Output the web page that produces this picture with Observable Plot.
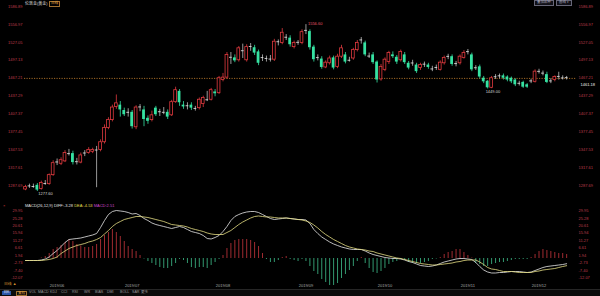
<!DOCTYPE html>
<html><head><meta charset="utf-8">
<script src="https://cdn.jsdelivr.net/npm/d3@7"></script>
<script src="https://cdn.jsdelivr.net/npm/@observablehq/plot@0.6"></script>
<style>
html,body{margin:0;padding:0;background:#000;}
#wrap{position:relative;width:600px;height:296px;overflow:hidden;background:#000;font-family:'Liberation Sans','Noto Sans CJK SC',sans-serif;}
#p1{position:absolute;left:0;top:0;}
#p2{position:absolute;left:0;top:200px;}
.ov{position:absolute;white-space:nowrap;line-height:1;}
</style></head><body>
<div id="wrap"><div id="p1"></div><div id="p2"></div><div id="ov"></div></div>
<script>
// ---------- data ----------
const openP = [1281,1286,1287,1288,1282,1292,1290,1305,1326,1324,
1328,1342,1341,1327,1326,1341,1342,1344,1346,1347,
1360,1384,1397,1419,1422,1413,1409,1410,1385,1418,
1414,1400,1397,1417,1410,1411,1410,1405,1427,1445,
1422,1420,1422,1416,1417,1424,1432,1431,1444,1442,
1464,1468,1501,1501,1497,1512,1497,1519,1518,1511,
1501,1499,1500,1498,1527,1526,1535,1534,1519,1526,
1526,1546,1545,1519,1501,1499,1485,1492,1501,1486,
1503,1506,1498,1500,1514,1530,1526,1505,1506,1494,
1465,1481,1494,1506,1502,1497,1506,1492,1492,1489,
1484,1490,1489,1482,1484,1481,1492,1503,1503,1491,
1492,1501,1511,1506,1484,1486,1467,1462,1451,1469,
1470,1471,1469,1467,1464,1458,1460,1456,1462,1461,
1478,1475,1473,1462,1464,1469,1467,1467];
const highP = [1288,1290,1290,1291,1295,1296,1307,1329,1332,1334,
1346,1348,1345,1333,1342,1346,1351,1350,1353,1364,
1389,1401,1422,1439,1428,1417,1416,1413,1421,1423,
1420,1404,1412,1420,1415,1418,1414,1430,1452,1448,
1428,1426,1426,1420,1434,1437,1445,1450,1448,1470,
1475,1510,1510,1506,1520,1524,1523,1525,1522,1514,
1506,1504,1505,1532,1531,1550,1540,1538,1529,1530,
1548,1556.6,1548,1522,1506,1503,1496,1504,1504,1507,
1522,1510,1502,1517,1530,1535,1529,1509,1510,1496,
1490,1501,1512,1511,1505,1514,1510,1495,1497,1492,
1492,1494,1492,1487,1489,1496,1504,1507,1506,1495,
1506,1513,1515,1509,1488,1489,1470,1463,1470,1473,
1474,1474,1471,1469,1466,1462,1462,1458,1465,1481,
1482,1479,1477,1466,1471,1477,1471,1470];
const lowP = [1279,1283,1283,1277.6,1280,1288,1288,1303,1321,1321,
1326,1337,1322,1322,1324,1336,1340,1341,1284,1344,
1357,1381,1394,1415,1402,1403,1402,1382,1381,1411,
1386,1390,1394,1403,1403,1406,1398,1403,1425,1420,
1415,1414,1413,1412,1414,1418,1428,1429,1436,1440,
1461,1465,1490,1493,1494,1500,1494,1512,1505,1488,
1495,1494,1494,1495,1521,1523,1530,1519,1516,1522,
1523,1540,1514,1494,1496,1482,1483,1489,1481,1483,
1500,1491,1494,1497,1511,1524,1503,1500,1490,1459,
1462,1478,1490,1500,1490,1494,1490,1481,1487,1475,
1480,1485,1482,1478,1480,1479,1489,1498,1487,1486,
1489,1499,1506,1478,1480,1466,1458,1449,1449.5,1465,
1466,1464,1461,1458,1453,1454,1450,1450,1458,1459,
1474,1471,1458,1458,1461,1464,1464,1464];
const closeP = [1285,1287,1286,1280,1292,1291,1305,1325,1327,1330,
1342,1341,1326,1327.5,1338,1342,1347,1347,1347,1360,
1384,1397,1418,1425,1414,1406,1410,1386,1418,1419,
1398,1395,1405,1406,1411,1410,1402,1427,1447,1426,
1419,1421,1417,1416.5,1431,1434,1431,1447,1441,1467,
1468,1506,1502,1496,1517,1513,1519,1520,1509,1492,
1501.5,1500,1499,1528,1528,1543,1535.5,1523,1526,1527,
1544,1547,1518,1498,1501.5,1485,1493,1500,1484,1503,
1517,1494,1497,1514,1526,1531,1506,1504,1493,1464,
1486,1498,1509,1503,1494,1511,1493,1484,1492.5,1478,
1489,1490.5,1485,1482.5,1485,1493,1501,1503.5,1490,1491.5,
1503,1509,1511.5,1481,1484.5,1469,1461,1451,1467,1469.5,
1471,1467,1464,1461,1456,1458.5,1452,1452,1462.5,1478,
1478.5,1475.5,1460,1462.5,1469,1470,1467.5,1468];

const diffV = [-1.26,-1.26,-1.26,-1.26,-0.95,-0.32,0.95,3.15,5.04,7.56,
10.08,11.97,12.29,12.60,12.92,13.55,14.18,14.81,15.75,19.53,
23.94,27.72,29.61,30.24,29.93,29.61,28.98,28.04,28.35,27.09,
25.20,23.94,22.37,21.42,20.79,20.16,19.53,18.90,19.53,20.16,
19.53,18.27,17.01,16.38,15.75,14.49,12.60,12.29,13.23,14.49,
17.01,20.16,23.94,26.46,27.72,28.67,29.30,29.61,29.61,28.98,
27.72,26.46,25.20,24.57,24.89,25.20,25.52,25.20,24.89,24.57,
24.57,24.26,22.05,18.27,15.75,13.55,11.97,10.40,9.14,8.19,
7.25,6.62,5.99,5.67,5.67,5.67,4.73,3.47,2.52,1.89,
1.26,0.63,0.32,0,0,-0.32,-0.95,-1.89,-2.52,-3.47,
-4.41,-4.73,-5.04,-4.73,-4.10,-3.15,-2.21,-1.58,-0.95,-0.32,
0,0,-0.32,-0.63,-2.52,-5.04,-7.25,-8.51,-9.14,-9.14,
-8.82,-8.82,-8.51,-8.19,-8.19,-8.19,-8.51,-8.82,-8.51,-7.56,
-6.62,-5.67,-5.04,-4.73,-4.41,-4.10,-3.78,-3.28];
const deaV = [-1.26,-1.26,-1.26,-1.26,-1.26,-0.95,-0.63,0,0.95,3.15,
4.73,6.30,7.25,8.19,8.82,9.45,10.40,11.03,11.97,13.23,
15.44,17.64,20.16,22.05,23.31,24.57,25.20,25.83,26.46,26.46,
26.15,25.83,25.20,24.57,23.94,23.31,22.37,21.42,21.11,20.79,
20.48,19.85,18.90,18.27,17.64,17.01,16.07,15.44,15.12,15.12,
15.12,16.38,17.64,19.53,21.42,23.00,24.26,25.52,26.46,26.78,
26.46,26.15,26.15,25.83,25.52,25.52,25.52,25.20,24.89,24.57,
24.26,23.63,22.68,21.11,19.22,17.01,15.12,13.55,11.97,10.71,
9.45,8.19,7.25,6.62,5.99,5.67,5.36,4.73,4.41,3.47,
2.84,2.21,1.58,0.95,0.32,0,-0.63,-1.26,-1.89,-2.52,
-3.15,-3.47,-3.78,-4.10,-4.10,-3.78,-3.47,-3.15,-2.84,-2.21,
-1.89,-1.26,-0.95,-0.95,-0.95,-2.21,-3.78,-5.67,-6.62,-6.93,
-7.56,-8.19,-8.19,-8.19,-8.51,-8.82,-8.82,-8.82,-8.82,-8.19,
-7.88,-7.25,-6.93,-6.62,-6.30,-5.67,-5.04,-4.53];
const macdV = [0,0,0,0,0.32,1.26,3.15,5.67,6.93,8.19,
10.08,11.66,10.71,8.82,7.88,6.93,6.93,7.56,8.82,11.97,
14.49,16.38,18.27,16.38,13.86,10.71,7.56,5.67,4.41,1.89,
-0.32,-1.89,-3.15,-4.41,-5.67,-6.30,-6.30,-5.04,-3.15,-0.63,
-1.26,-3.15,-5.67,-6.30,-5.67,-5.67,-6.30,-4.41,-2.52,-0.63,
1.89,6.30,9.45,11.34,11.97,11.97,11.97,11.34,10.08,7.56,
3.15,-0.63,-2.52,-2.52,-1.26,0.63,1.26,-0.63,-1.26,-1.89,
-0.63,-1.89,-5.04,-8.19,-10.08,-13.23,-15.12,-17.01,-17.01,-15.75,
-12.60,-10.08,-7.56,-5.04,-1.89,0.63,-3.15,-6.30,-8.82,-9.45,
-8.19,-6.30,-3.78,-2.52,-1.89,-0.63,-1.26,-2.52,-3.15,-3.15,
-3.15,-2.52,-1.89,-0.63,-0.32,0.63,2.52,3.78,4.41,5.67,
5.67,3.78,1.89,0.32,-3.15,-3.78,-5.04,-5.04,-3.78,-3.15,
-2.52,-2.52,-1.89,-1.26,-0.63,-0.63,-0.63,-0.63,0.63,2.52,
4.41,5.67,5.04,4.41,3.78,3.15,3.15,2.51];

const priceTicks = [1287.69,1317.61,1347.53,1377.45,1407.37,1437.29,1467.21,1497.13,1527.05,1556.97,1586.89];
const macdTicks = [-12.07,-7.40,-2.73,1.94,6.61,11.27,15.94,20.61,25.28,29.95];
const monthIdx = [8,27,50,71,91,112,130];
const monthLabels = ["2019/06","2019/07","2019/08","2019/09","2019/10","2019/11","2019/12"];
const refLine = [1466.72];
const cursorPrice = [1461.18];

// ---------- styling ----------
const FONT = "'Liberation Sans','Noto Sans CJK SC',sans-serif";
const RED = "#e03a3f", GREEN = "#36e2a2", DOJI = "#d8d8d8", AXIS = "#bf3d4b", ORANGE = "#c8822e";

const N = openP.length;
const idx = d3.range(N);
const cand = idx.map(i => ({i, o: openP[i], h: highP[i], l: lowP[i], c: closeP[i],
  kind: Math.abs(closeP[i] - openP[i]) <= 1 ? "doji" : (closeP[i] > openP[i] ? "up" : "down")}));
const up = cand.filter(d => d.kind === "up");
const down = cand.filter(d => d.kind === "down");
const doji = cand.filter(d => d.kind === "doji");

const xScale = {type: "band", domain: idx, range: [23.025, 568.125], paddingInner: 0.3, paddingOuter: 0.15, round: false, axis: null};

const hiI = d3.maxIndex(highP);
const loI = d3.minIndex(lowP);
const lo2I = 100 + d3.minIndex(lowP.slice(100));

const p1 = Plot.plot({
  width: 600, height: 200, marginLeft: 24, marginRight: 24, marginTop: 0, marginBottom: 0,
  style: {background: "transparent", fontFamily: FONT, fontSize: "4px", overflow: "visible"},
  x: xScale,
  y: {domain: [priceTicks[0], priceTicks[priceTicks.length - 1]], range: [185, 6], axis: null},
  marks: [
    Plot.ruleY(refLine, {y: d => d, stroke: ORANGE, strokeWidth: 0.8, strokeDasharray: "1.2,1.3"}),
    Plot.ruleX(up, {x: "i", y1: "l", y2: "h", stroke: RED, strokeWidth: 0.8}),
    Plot.ruleX(down, {x: "i", y1: "l", y2: "h", stroke: GREEN, strokeWidth: 0.8}),
    Plot.ruleX(doji, {x: "i", y1: "l", y2: "h", stroke: DOJI, strokeWidth: 0.7}),
    Plot.barY(up, {x: "i", y1: "o", y2: "c", fill: "#000", stroke: RED, strokeWidth: 0.8}),
    Plot.barY(down, {x: "i", y1: "o", y2: "c", fill: GREEN}),
    Plot.tickY(doji, {x: "i", y: "c", stroke: DOJI, strokeWidth: 0.9}),
    Plot.axisY(priceTicks, {anchor: "left", tickSize: 0, tickPadding: 2, tickFormat: d => d.toFixed(2), color: AXIS, fontSize: 4, label: null}),
    Plot.axisY(priceTicks, {anchor: "right", tickSize: 0, tickPadding: 2, tickFormat: d => d.toFixed(2), color: AXIS, fontSize: 4, label: null}),
    Plot.text([cand[hiI]], {x: "i", y: "h", text: d => d.h.toFixed(2), dx: 2, dy: -1, textAnchor: "start", fill: "#e2586a", fontSize: 4}),
    Plot.text([cand[loI]], {x: "i", y: "l", text: d => d.l.toFixed(2), dx: 1, dy: 2, textAnchor: "start", fill: "#d6d6d6", fontSize: 4}),
    Plot.text([cand[lo2I]], {x: "i", y: "l", text: d => d.l.toFixed(2), dx: -2, dy: 3, textAnchor: "start", fill: "#d6d6d6", fontSize: 4}),
    Plot.text(cursorPrice, {y: d => d, text: d => d.toFixed(2), frameAnchor: "right", dx: 4, dy: 3, textAnchor: "start", fill: "#f0f0f0", stroke: "#000", strokeWidth: 0, fontSize: 4})
  ]
});
document.getElementById("p1").append(p1);

const m = idx.map(i => ({i, diff: diffV[i], dea: deaV[i], macd: macdV[i]}));
const mUp = m.filter(d => d.macd >= 0);
const mDn = m.filter(d => d.macd < 0);

const p2 = Plot.plot({
  width: 600, height: 96, marginLeft: 24, marginRight: 24, marginTop: 6, marginBottom: 11,
  style: {background: "transparent", fontFamily: FONT, fontSize: "4px", overflow: "visible"},
  x: xScale,
  y: {domain: [macdTicks[0], macdTicks[macdTicks.length - 1]], range: [77.16, 10.46], axis: null},
  marks: [
    Plot.ruleX(mUp, {x: "i", y1: 0, y2: "macd", stroke: "#c8363c", strokeWidth: 0.8}),
    Plot.ruleX(mDn, {x: "i", y1: 0, y2: "macd", stroke: "#3fbf8c", strokeWidth: 0.8}),
    Plot.line(m, {x: "i", y: "diff", stroke: "#e8e8e8", strokeWidth: 0.8}),
    Plot.line(m, {x: "i", y: "dea", stroke: "#e6de84", strokeWidth: 0.8}),
    Plot.axisY(macdTicks, {anchor: "left", tickSize: 0, tickPadding: 2, tickFormat: d => d.toFixed(2), color: AXIS, fontSize: 4, label: null}),
    Plot.axisY(macdTicks, {anchor: "right", tickSize: 0, tickPadding: 2, tickFormat: d => d.toFixed(2), color: AXIS, fontSize: 4, label: null}),
    Plot.text(monthIdx, {x: d => d, text: (d, k) => monthLabels[k], frameAnchor: "bottom", lineAnchor: "middle", fill: "#a8a8a8", fontSize: 4})
  ]
});
document.getElementById("p2").append(p2);

// ---------- UI chrome (titles, buttons) ----------
const ov = document.getElementById("ov");
function add(html, style) { const d = document.createElement("div"); d.className = "ov"; d.innerHTML = html; d.style.cssText += style; ov.append(d); }
add('伦敦金(黄金)', 'left:25px;top:1.5px;font-size:4px;color:#d8d8d8;');
add('日线', 'left:49px;top:1px;font-size:3.6px;color:#e0a040;border:0.5px solid #a07030;padding:0.3px 1px;');
add('叠加品种', 'left:534px;top:0px;font-size:3.4px;color:#aab;border:0.5px solid #667;padding:0.3px 2px;background:#101018;');
add('画线 ▾', 'left:556px;top:0px;font-size:3.4px;color:#aab;border:0.5px solid #667;padding:0.3px 2px;background:#101018;');
add('×', 'left:3px;top:203.5px;font-size:4px;color:#d03a3a;');
add('MACD(26,12,9) DIFF:-3.28 <span style="color:#e6de50">DEA:-4.53</span> <span style="color:#d048d0">MACD:2.51</span>', 'left:25px;top:204px;font-size:4px;color:#e0e0e0;');
add('日线 ▲', 'left:4px;top:283px;font-size:3.8px;color:#d89030;');
add('', 'left:0px;top:289px;width:600px;height:7px;background:#0b0b0b;border-top:0.5px solid #262626;');
const tabs = [["日K",2],["复权",16],["VOL",29],["MACD",38],["KDJ",50],["CCI",61],["RSI",72],["WR",84],["BIAS",95],["DMI",107],["BOLL",120],["SAR",132],["更多",141]];
tabs.forEach(([t, x], k) => {
  let st = `left:${x}px;top:290.5px;font-size:3.6px;color:#9a9a9a;`;
  if (k === 0) st += 'background:#2a55a8;color:#e8e8ff;padding:0.3px 1.5px;';
  if (k === 1) st += 'border:0.5px solid #a07030;color:#e0a040;padding:0 1px;';
  add(t, st);
});
</script>
</body></html>
